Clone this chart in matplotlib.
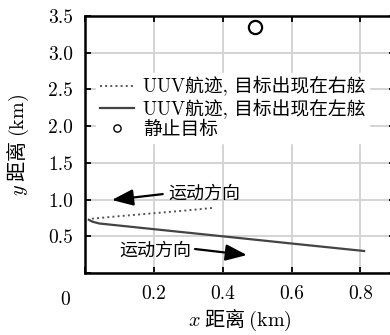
import matplotlib
matplotlib.use("Agg")
import matplotlib.pyplot as plt
import matplotlib.transforms as mtransforms

plt.rcParams['font.family'] = ['cmr10', 'Noto Sans CJK SC']
plt.rcParams['mathtext.fontset'] = 'cm'
plt.rcParams['axes.formatter.use_mathtext'] = True

# UUV 航迹 (km)
right_x = [0.019, 0.10, 0.20, 0.30, 0.377]
right_y = [0.740, 0.775, 0.815, 0.855, 0.890]
left_x = [0.010, 0.020, 0.040, 0.20, 0.40, 0.60, 0.811]
left_y = [0.725, 0.700, 0.675, 0.597, 0.500, 0.402, 0.300]
target_x = [0.493]
target_y = [3.35]

xticks = [0.2, 0.4, 0.6, 0.8]
xtick_labels = ['0.2', '0.4', '0.6', '0.8']
yticks = [0.5, 1.0, 1.5, 2.0, 2.5, 3.0, 3.5]
ytick_labels = ['0.5', '1.0', '1.5', '2.0', '2.5', '3.0', '3.5']

fig = plt.figure(figsize=(3.9, 3.35), dpi=100)
ax = fig.add_axes([0.219, 0.185, 0.793, 0.767])

ax.plot(right_x, right_y, ':', color='#555555', lw=1.4,
        label='UUV航迹, 目标出现在右舷')
ax.plot(left_x, left_y, '-', color='#444444', lw=1.6,
        label='UUV航迹, 目标出现在左舷')
ax.plot(target_x, target_y, 'o', mfc='none', mec='black', mew=1.6, ms=9.5,
        ls='none', label='静止目标')

# 运动方向箭头
arrow = dict(arrowstyle='-|>,head_length=1.3,head_width=0.5', color='black',
             lw=1.6, shrinkA=0, shrinkB=0, mutation_scale=10)
ax.annotate('', xy=(0.077, 0.995), xytext=(0.225, 1.075), arrowprops=arrow)
ax.text(0.24, 1.08, '运动方向', fontsize=13, va='center', ha='left')
ax.annotate('', xy=(0.47, 0.245), xytext=(0.319, 0.327), arrowprops=arrow)
ax.text(0.10, 0.31, '运动方向', fontsize=13, va='center', ha='left')

ax.set_xlim(0, 0.9)
ax.set_ylim(0, 3.5)
ax.set_xticks([0] + xticks)
ax.set_xticklabels([''] + xtick_labels)
ax.set_yticks([0] + yticks)
ax.set_yticklabels([''] + ytick_labels)

# 原点标签稍微左移
offset = mtransforms.ScaledTranslation(-0.2, 0, fig.dpi_scale_trans)
ax.text(0, -0.07, '0', fontsize=14, ha='center', va='top',
        transform=ax.get_xaxis_transform() + offset)

ax.tick_params(direction='in', length=4, width=1.3, labelsize=14, pad=9,
               top=True, right=True, colors='black')
ax.grid(True, color='#d4d4d4', lw=1.4)
ax.set_axisbelow(True)
for s in ax.spines.values():
    s.set_linewidth(1.8)

ax.set_xlabel(r'$x$ 距离 $\mathrm{(km)}$', fontsize=14.5,
              family='Noto Sans CJK SC', labelpad=3)
ax.set_ylabel(r'$y$ 距离 $\mathrm{(km)}$', fontsize=14.5,
              family='Noto Sans CJK SC', labelpad=12)

leg = ax.legend(loc='upper left', bbox_to_anchor=(0.035, 0.78), fontsize=13.5,
                frameon=True, fancybox=False, framealpha=1, edgecolor='white',
                handlelength=1.8, handletextpad=0.5, labelspacing=0.12,
                borderpad=0.2, borderaxespad=0, markerscale=0.55)
leg.legend_handles[2].set_markeredgewidth(1.0)

fig.savefig('out.png', dpi=100)
